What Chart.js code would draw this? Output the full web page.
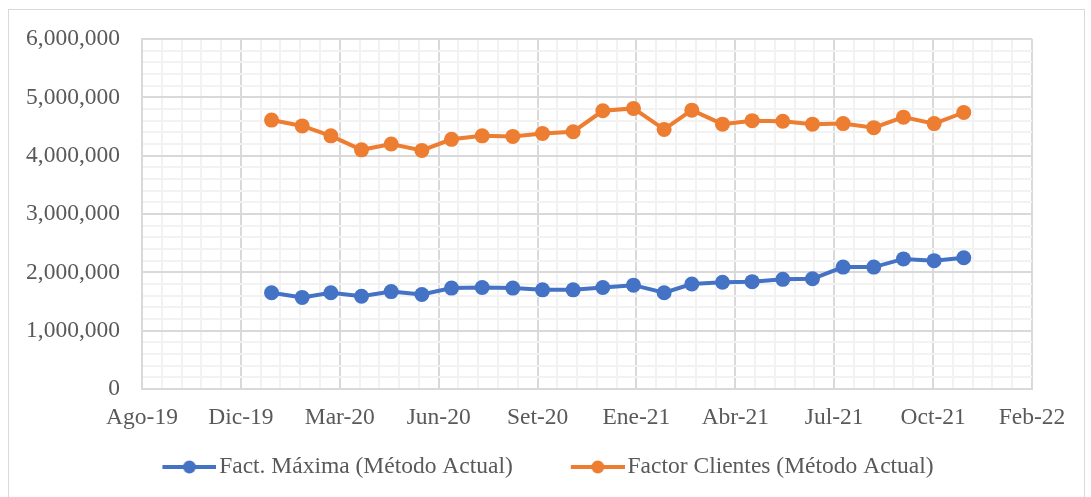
<!DOCTYPE html>
<html>
<head>
<meta charset="utf-8">
<script src="https://cdn.jsdelivr.net/npm/chart.js@4"></script>
<style>
  html, body { margin: 0; padding: 0; background: #fff; }
  #frame { position: absolute; left: 8px; top: 9px; width: 1075px; height: 520px; border: 1px solid #d9d9d9; }
  #chart { position: absolute; left: 0; top: 0; }
</style>
</head>
<body>
<div id="frame"></div>
<canvas id="chart" width="1091" height="497"></canvas>
<script>
// monthly dates (first of month)
const dates = [
  '2020-01-01', '2020-02-01', '2020-03-01', '2020-04-01', '2020-05-01', '2020-06-01',
  '2020-07-01', '2020-08-01', '2020-09-01', '2020-10-01', '2020-11-01', '2020-12-01',
  '2021-01-01', '2021-02-01', '2021-03-01', '2021-04-01', '2021-05-01', '2021-06-01',
  '2021-07-01', '2021-08-01', '2021-09-01', '2021-10-01', '2021-11-01', '2021-12-01'
];
const factMaxima = [
  1650000, 1570000, 1650000, 1590000, 1670000, 1620000, 1730000, 1740000,
  1730000, 1700000, 1700000, 1740000, 1780000, 1650000, 1800000, 1830000,
  1840000, 1880000, 1890000, 2090000, 2090000, 2230000, 2200000, 2250000
];
const factorClientes = [
  4610000, 4510000, 4340000, 4100000, 4200000, 4090000, 4280000, 4340000,
  4330000, 4380000, 4410000, 4770000, 4810000, 4450000, 4780000, 4540000,
  4600000, 4590000, 4540000, 4550000, 4480000, 4660000, 4550000, 4740000
];
const xTickLabels = ['Ago-19', 'Dic-19', 'Mar-20', 'Jun-20', 'Set-20', 'Ene-21', 'Abr-21', 'Jul-21', 'Oct-21', 'Feb-22'];
const seriesNames = ['Fact. Máxima (Método Actual)', 'Factor Clientes (Método Actual)'];

// axis in excel day serials
const xMin = 43700, xMajor = 100, xMinor = 20;
const xMax = xMin + xMajor * (xTickLabels.length - 1);

function serial(iso) {
  const p = iso.split('-').map(Number);
  return (Date.UTC(p[0], p[1] - 1, p[2]) - Date.UTC(1899, 11, 30)) / 86400000;
}

const BLUE = '#4472C4';
const ORANGE = '#ED7D31';
const TEXT = '#595959';
const FONT = '"Liberation Serif", "Times New Roman", serif';
const FS = 23.5;

// legend marker: line + dot, with blank space on the left as item gap
function legendMark(color) {
  const c = document.createElement('canvas');
  c.width = 111; c.height = 16;
  const g = c.getContext('2d');
  g.strokeStyle = color; g.lineWidth = 4;
  g.beginPath(); g.moveTo(57, 8); g.lineTo(111, 8); g.stroke();
  g.fillStyle = color;
  g.beginPath(); g.arc(84, 8, 6.5, 0, Math.PI * 2); g.fill();
  return c;
}

const marks = [legendMark(BLUE), legendMark(ORANGE)];

function series(vals, name, color) {
  return {
    label: name,
    data: dates.map((d, i) => ({ x: serial(d), y: vals[i] })),
    borderColor: color,
    backgroundColor: color,
    borderWidth: 4,
    pointRadius: 7.5,
    pointHoverRadius: 7.5,
    pointBorderWidth: 0,
    tension: 0
  };
}

new Chart(document.getElementById('chart').getContext('2d'), {
  type: 'line',
  data: {
    datasets: [
      series(factMaxima, seriesNames[0], BLUE),
      series(factorClientes, seriesNames[1], ORANGE)
    ]
  },
  options: {
    responsive: false,
    animation: false,
    layout: { padding: { left: 16, right: 59, top: 39, bottom: 8.25 } },
    plugins: {
      tooltip: { enabled: false },
      legend: {
        position: 'bottom',
        labels: {
          font: { family: FONT, size: FS },
          color: TEXT,
          usePointStyle: true,
          pointStyleWidth: 93,
          padding: 10,
          generateLabels: function(chart) {
            return chart.data.datasets.map((ds, i) => ({
              text: ds.label,
              pointStyle: marks[i],
              fillStyle: ds.borderColor,
              strokeStyle: ds.borderColor,
              lineWidth: 0,
              fontColor: TEXT,
              datasetIndex: i,
              hidden: false
            }));
          }
        }
      }
    },
    scales: {
      x: {
        type: 'linear',
        min: xMin,
        max: xMax,
        afterFit: function(s) { s.height = 56.25; },
        border: { color: '#d9d9d9', width: 2 },
        grid: {
          drawTicks: false,
          lineWidth: 2,
          color: c => ((c.tick.value - xMin) % xMajor === 0) ? '#d9d9d9' : '#f2f2f2'
        },
        ticks: {
          stepSize: xMinor,
          autoSkip: false,
          maxRotation: 0,
          padding: 15,
          color: TEXT,
          font: { family: FONT, size: FS },
          callback: function(v) {
            const k = (v - xMin) / xMajor;
            return Number.isInteger(k) ? xTickLabels[k] : '';
          }
        }
      },
      y: {
        min: 0,
        max: 6000000,
        afterFit: function(s) { s.width = 126; },
        border: { color: '#d9d9d9', width: 2 },
        grid: {
          drawTicks: false,
          lineWidth: 2,
          color: c => (c.tick.value % 1000000 === 0) ? '#d9d9d9' : '#f2f2f2'
        },
        ticks: {
          stepSize: 200000,
          autoSkip: false,
          padding: 22,
          color: TEXT,
          font: { family: FONT, size: FS },
          callback: function(v) {
            return v % 1000000 === 0 ? v.toLocaleString('en-US') : '';
          }
        }
      }
    }
  }
});
</script>
</body>
</html>
